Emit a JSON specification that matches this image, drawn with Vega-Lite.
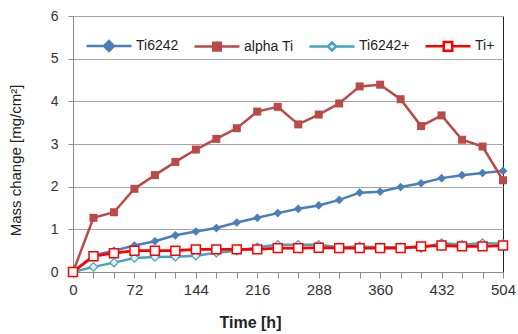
{
  "$schema": "https://vega.github.io/schema/vega-lite/v6.json",
  "width": 430,
  "height": 256,
  "autosize": {"type": "none"},
  "padding": {"left": 73, "top": 16, "right": 15, "bottom": 62},
  "background": "white",
  "config": {
    "view": {"stroke": "#222222", "strokeWidth": 1},
    "font": "Liberation Sans",
    "axis": {"labelFont": "Liberation Sans", "titleFont": "Liberation Sans", "labelColor": "#333333", "titleColor": "#222222", "labelFontSize": 14, "titleFontSize": 15, "labelFlush": false},
    "legend": {
      "orient": "none", "legendX": 12, "legendY": 6, "direction": "horizontal",
      "symbolSize": 2025, "symbolStrokeWidth": 2.5, "symbolOpacity": 1,
      "labelFont": "Liberation Sans", "labelFontSize": 14, "labelColor": "#222222",
      "labelOffset": 3, "columnPadding": 10, "symbolLimit": 10
    }
  },
  "data": {"values": [
    {"t":0,"s":"Ti6242","v":0},{"t":24,"s":"Ti6242","v":0.39},{"t":48,"s":"Ti6242","v":0.5},{"t":72,"s":"Ti6242","v":0.62},{"t":96,"s":"Ti6242","v":0.72},{"t":120,"s":"Ti6242","v":0.86},{"t":144,"s":"Ti6242","v":0.95},{"t":168,"s":"Ti6242","v":1.03},{"t":192,"s":"Ti6242","v":1.16},{"t":216,"s":"Ti6242","v":1.27},{"t":240,"s":"Ti6242","v":1.38},{"t":264,"s":"Ti6242","v":1.48},{"t":288,"s":"Ti6242","v":1.56},{"t":312,"s":"Ti6242","v":1.69},{"t":336,"s":"Ti6242","v":1.86},{"t":360,"s":"Ti6242","v":1.88},{"t":384,"s":"Ti6242","v":1.99},{"t":408,"s":"Ti6242","v":2.08},{"t":432,"s":"Ti6242","v":2.2},{"t":456,"s":"Ti6242","v":2.27},{"t":480,"s":"Ti6242","v":2.32},{"t":504,"s":"Ti6242","v":2.37},
    {"t":0,"s":"alpha Ti","v":0},{"t":24,"s":"alpha Ti","v":1.27},{"t":48,"s":"alpha Ti","v":1.4},{"t":72,"s":"alpha Ti","v":1.95},{"t":96,"s":"alpha Ti","v":2.27},{"t":120,"s":"alpha Ti","v":2.58},{"t":144,"s":"alpha Ti","v":2.87},{"t":168,"s":"alpha Ti","v":3.12},{"t":192,"s":"alpha Ti","v":3.37},{"t":216,"s":"alpha Ti","v":3.76},{"t":240,"s":"alpha Ti","v":3.87},{"t":264,"s":"alpha Ti","v":3.46},{"t":288,"s":"alpha Ti","v":3.69},{"t":312,"s":"alpha Ti","v":3.95},{"t":336,"s":"alpha Ti","v":4.35},{"t":360,"s":"alpha Ti","v":4.39},{"t":384,"s":"alpha Ti","v":4.05},{"t":408,"s":"alpha Ti","v":3.42},{"t":432,"s":"alpha Ti","v":3.67},{"t":456,"s":"alpha Ti","v":3.1},{"t":480,"s":"alpha Ti","v":2.94},{"t":504,"s":"alpha Ti","v":2.15},
    {"t":0,"s":"Ti6242+","v":0},{"t":24,"s":"Ti6242+","v":0.12},{"t":48,"s":"Ti6242+","v":0.22},{"t":72,"s":"Ti6242+","v":0.33},{"t":96,"s":"Ti6242+","v":0.35},{"t":120,"s":"Ti6242+","v":0.36},{"t":144,"s":"Ti6242+","v":0.38},{"t":168,"s":"Ti6242+","v":0.45},{"t":192,"s":"Ti6242+","v":0.5},{"t":216,"s":"Ti6242+","v":0.58},{"t":240,"s":"Ti6242+","v":0.64},{"t":264,"s":"Ti6242+","v":0.64},{"t":288,"s":"Ti6242+","v":0.64},{"t":312,"s":"Ti6242+","v":0.58},{"t":336,"s":"Ti6242+","v":0.6},{"t":360,"s":"Ti6242+","v":0.58},{"t":384,"s":"Ti6242+","v":0.58},{"t":408,"s":"Ti6242+","v":0.56},{"t":432,"s":"Ti6242+","v":0.68},{"t":456,"s":"Ti6242+","v":0.64},{"t":480,"s":"Ti6242+","v":0.68},{"t":504,"s":"Ti6242+","v":0.66},
    {"t":0,"s":"Ti+","v":0},{"t":24,"s":"Ti+","v":0.37},{"t":48,"s":"Ti+","v":0.44},{"t":72,"s":"Ti+","v":0.5},{"t":96,"s":"Ti+","v":0.5},{"t":120,"s":"Ti+","v":0.5},{"t":144,"s":"Ti+","v":0.53},{"t":168,"s":"Ti+","v":0.53},{"t":192,"s":"Ti+","v":0.53},{"t":216,"s":"Ti+","v":0.53},{"t":240,"s":"Ti+","v":0.56},{"t":264,"s":"Ti+","v":0.56},{"t":288,"s":"Ti+","v":0.57},{"t":312,"s":"Ti+","v":0.56},{"t":336,"s":"Ti+","v":0.56},{"t":360,"s":"Ti+","v":0.56},{"t":384,"s":"Ti+","v":0.56},{"t":408,"s":"Ti+","v":0.6},{"t":432,"s":"Ti+","v":0.62},{"t":456,"s":"Ti+","v":0.6},{"t":480,"s":"Ti+","v":0.6},{"t":504,"s":"Ti+","v":0.62}
  ]},
  "encoding": {
    "x": {"field": "t", "type": "quantitative", "scale": {"domain": [0, 504], "nice": false},
      "axis": {"values": [0,24,48,72,96,120,144,168,192,216,240,264,288,312,336,360,384,408,432,456,480,504],
        "labelExpr": "datum.value % 72 === 0 ? datum.label : ''", "grid": false, "labelFontSize": 15,
        "tickSize": 6, "tickColor": "#8c8c8c", "domainColor": "#8c8c8c", "labelPadding": 4,
        "title": "Time [h]", "titleFontWeight": "bold", "titleFontSize": 16, "titleX": 177, "titleY": 50, "titleBaseline": "middle", "titleAlign": "center"}},
    "y": {"field": "v", "type": "quantitative", "scale": {"domain": [0, 6], "nice": false},
      "axis": {"values": [0,1,2,3,4,5,6], "grid": true, "gridColor": "#a6a6a6", "tickSize": 5, "tickColor": "#8c8c8c", "domainColor": "#8c8c8c", "labelPadding": 10,
        "title": "Mass change [mg/cm²]", "titleFontWeight": "normal", "titleX": -58, "titleY": 144, "titleBaseline": "middle", "titleAlign": "center", "titleAngle": -90}}
  },
  "layer": [
    {"transform": [{"filter": "datum.s === 'Ti6242'"}],
     "mark": {"type": "line", "color": "#4a7ebb", "strokeWidth": 2.5, "point": {"shape": "diamond", "filled": true, "color": "#4a7ebb", "size": 75}}},
    {"transform": [{"filter": "datum.s === 'alpha Ti'"}],
     "mark": {"type": "line", "color": "#b94a48", "strokeWidth": 2.5, "point": {"shape": "square", "filled": true, "color": "#b94a48", "size": 64}}},
    {"transform": [{"filter": "datum.s === 'Ti6242+'"}],
     "mark": {"type": "line", "color": "#46a3bd", "strokeWidth": 2.5, "point": {"shape": "diamond", "filled": false, "fill": "#dff2f7", "stroke": "#46a3bd", "strokeWidth": 1.2, "size": 70}}},
    {"transform": [{"filter": "datum.s === 'Ti+'"}],
     "mark": {"type": "line", "color": "#ff0000", "strokeWidth": 2.8, "point": {"shape": "square", "filled": false, "fill": "white", "stroke": "#ff0000", "strokeWidth": 1.5, "size": 80}}},
    {"mark": {"type": "point", "opacity": 0},
     "encoding": {
       "shape": {"field": "s", "type": "nominal", "title": null,
         "scale": {"domain": ["Ti6242", "alpha Ti", "Ti6242+", "Ti+"],
           "range": ["M-1,0L1,0M0,-0.22L0.22,0L0,0.22L-0.22,0Z", "M-1,0L1,0M-0.17,-0.17L0.17,-0.17L0.17,0.17L-0.17,0.17Z", "M-1,0L-0.18,0M0.18,0L1,0M0,-0.18L0.18,0L0,0.18L-0.18,0Z", "M-1,0L-0.19,0M0.19,0L1,0M-0.19,-0.19L0.19,-0.19L0.19,0.19L-0.19,0.19Z"]}},
       "stroke": {"field": "s", "type": "nominal", "title": null,
         "scale": {"domain": ["Ti6242", "alpha Ti", "Ti6242+", "Ti+"], "range": ["#4a7ebb", "#b94a48", "#46a3bd", "#ff0000"]}},
       "fill": {"field": "s", "type": "nominal", "title": null,
         "scale": {"domain": ["Ti6242", "alpha Ti", "Ti6242+", "Ti+"], "range": ["#4a7ebb", "#b94a48", "#dff2f7", "#ffffff"]}}
     }}
  ]
}
